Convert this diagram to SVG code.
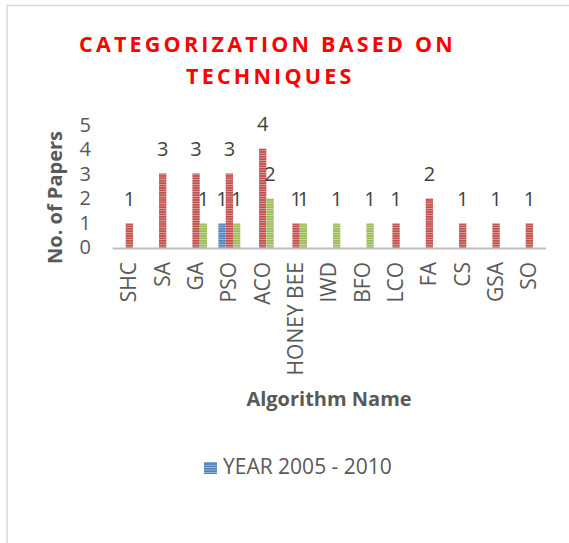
<svg xmlns="http://www.w3.org/2000/svg" width="569" height="543" viewBox="0 0 569 543">
<style>
.title{font-family:"Open Sans","Liberation Sans",sans-serif;font-weight:bold;font-size:21.5px;fill:#ff0000;letter-spacing:3.2px}
.tick{font-family:"Open Sans","Liberation Sans",sans-serif;font-size:20px;fill:#595959;text-anchor:end}
.val{font-family:"Open Sans","Liberation Sans",sans-serif;font-size:20px;fill:#404040;text-anchor:middle}
.cat{font-family:"Open Sans","Liberation Sans",sans-serif;font-size:21px;fill:#595959;text-anchor:end}
.axt{font-family:"Open Sans","Liberation Sans",sans-serif;font-size:20px;font-weight:bold;fill:#595959;text-anchor:middle}
.leg{font-family:"Open Sans","Liberation Sans",sans-serif;font-size:21px;fill:#595959}
.b{fill:url(#pb)}.r{fill:url(#pr)}.g{fill:url(#pg)}
</style>
<defs>
<pattern id="pr" patternUnits="userSpaceOnUse" width="4" height="2.4"><rect width="4" height="2.4" fill="#c0504d"/><rect y="1.6" width="4" height="0.8" fill="#e0a09e"/></pattern>
<pattern id="pg" patternUnits="userSpaceOnUse" width="4" height="2.4"><rect width="4" height="2.4" fill="#9bbb59"/><rect y="1.6" width="4" height="0.8" fill="#cbdca8"/></pattern>
<pattern id="pb" patternUnits="userSpaceOnUse" width="4" height="2.4"><rect width="4" height="2.4" fill="#4f81bd"/><rect y="1.6" width="4" height="0.8" fill="#a3bfe0"/></pattern>
</defs>
<rect x="0" y="0" width="569" height="543" fill="#ffffff"/>
<rect id="frame" x="7" y="5.5" width="600" height="600" fill="none" stroke="#d9d9d9" stroke-width="1.5"/>
<g id="title">
<text class="title" x="79" y="52">CATEGORIZATION BASED ON</text>
<text class="title" x="186" y="84">TECHNIQUES</text>
</g>
<g id="y-axis">
<text class="tick" x="91" y="254">0</text>
<text class="tick" x="91" y="229.6">1</text>
<text class="tick" x="91" y="205.2">2</text>
<text class="tick" x="91" y="180.8">3</text>
<text class="tick" x="91" y="156.4">4</text>
<text class="tick" x="91" y="132">5</text>
<text class="axt" transform="translate(62,197.5) rotate(-90)">No. of Papers</text>
</g>
<g id="bars">
<rect class="r" x="125.7" y="223.5" width="7.33" height="25"/>
<rect class="r" x="159.0" y="173.5" width="7.33" height="75"/>
<rect class="r" x="192.4" y="173.5" width="7.33" height="75"/>
<rect class="g" x="199.7" y="223.5" width="7.33" height="25"/>
<rect class="b" x="218.4" y="223.5" width="7.33" height="25"/>
<rect class="r" x="225.7" y="173.5" width="7.33" height="75"/>
<rect class="g" x="233.0" y="223.5" width="7.33" height="25"/>
<rect class="r" x="259.0" y="148.5" width="7.33" height="100"/>
<rect class="g" x="266.4" y="198.5" width="7.33" height="50"/>
<rect class="r" x="292.4" y="223.5" width="7.33" height="25"/>
<rect class="g" x="299.7" y="223.5" width="7.33" height="25"/>
<rect class="g" x="333.0" y="223.5" width="7.33" height="25"/>
<rect class="g" x="366.4" y="223.5" width="7.33" height="25"/>
<rect class="r" x="392.4" y="223.5" width="7.33" height="25"/>
<rect class="r" x="425.7" y="198.5" width="7.33" height="50"/>
<rect class="r" x="459.0" y="223.5" width="7.33" height="25"/>
<rect class="r" x="492.4" y="223.5" width="7.33" height="25"/>
<rect class="r" x="525.7" y="223.5" width="7.33" height="25"/>
</g>
<g id="connectors">
<line x1="112.7" y1="248.5" x2="546" y2="248.5" stroke="#bfbfbf" stroke-width="2"/>
</g>
<g id="data-labels">
<text class="val" x="129.4" y="206">1</text>
<text class="val" x="162.7" y="156">3</text>
<text class="val" x="196.0" y="156">3</text>
<text class="val" x="203.4" y="206">1</text>
<text class="val" x="222.0" y="206">1</text>
<text class="val" x="229.4" y="156">3</text>
<text class="val" x="236.7" y="206">1</text>
<text class="val" x="262.7" y="131">4</text>
<text class="val" x="270.0" y="181">2</text>
<text class="val" x="296.0" y="206">1</text>
<text class="val" x="303.4" y="206">1</text>
<text class="val" x="336.7" y="206">1</text>
<text class="val" x="370.0" y="206">1</text>
<text class="val" x="396.0" y="206">1</text>
<text class="val" x="429.4" y="181">2</text>
<text class="val" x="462.7" y="206">1</text>
<text class="val" x="496.0" y="206">1</text>
<text class="val" x="529.4" y="206">1</text>
</g>
<g id="x-axis">
<text class="cat" transform="translate(136.4,262) rotate(-90)">SHC</text>
<text class="cat" transform="translate(169.7,262) rotate(-90)">SA</text>
<text class="cat" transform="translate(203.0,262) rotate(-90)">GA</text>
<text class="cat" transform="translate(236.4,262) rotate(-90)">PSO</text>
<text class="cat" transform="translate(269.7,262) rotate(-90)">ACO</text>
<text class="cat" transform="translate(303.0,262) rotate(-90)">HONEY BEE</text>
<text class="cat" transform="translate(336.4,262) rotate(-90)">IWD</text>
<text class="cat" transform="translate(369.7,262) rotate(-90)">BFO</text>
<text class="cat" transform="translate(403.0,262) rotate(-90)">LCO</text>
<text class="cat" transform="translate(436.4,262) rotate(-90)">FA</text>
<text class="cat" transform="translate(469.7,262) rotate(-90)">CS</text>
<text class="cat" transform="translate(503.0,262) rotate(-90)">GSA</text>
<text class="cat" transform="translate(536.4,262) rotate(-90)">SO</text>
<text class="axt" x="329" y="406">Algorithm Name</text>
</g>
<g id="legend">
<rect class="b" x="204" y="462" width="13" height="12"/>
<text class="leg" x="223" y="474">YEAR 2005 - 2010</text>
</g>
</svg>
